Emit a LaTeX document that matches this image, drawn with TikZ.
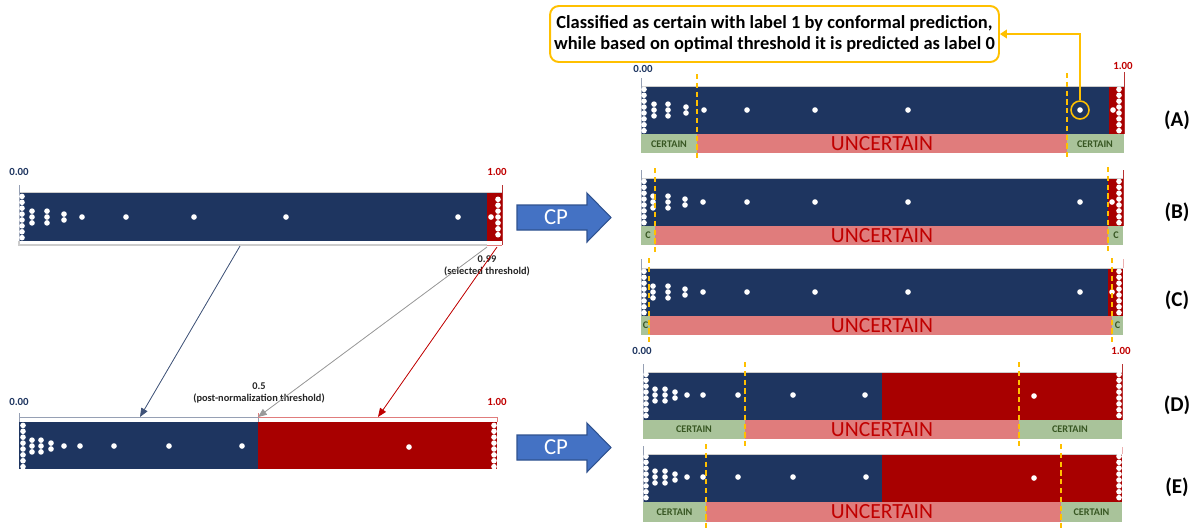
\documentclass[tikz,border=0pt]{standalone}
\usepackage{fontspec}
\setmainfont{Carlito}
\usetikzlibrary{arrows.meta}
\definecolor{navy}{RGB}{30,53,96}
\definecolor{barred}{RGB}{168,0,0}
\definecolor{labred}{RGB}{192,0,0}
\definecolor{uncpink}{RGB}{224,124,124}
\definecolor{certgreen}{RGB}{169,195,154}
\definecolor{certtxt}{RGB}{56,87,35}
\definecolor{uncred}{RGB}{192,0,0}
\definecolor{throrange}{RGB}{255,192,0}
\definecolor{cpblue}{RGB}{68,114,196}
\definecolor{cpborder}{RGB}{47,82,143}
\definecolor{axgray}{RGB}{150,160,180}
\definecolor{txtdark}{RGB}{38,38,38}
\newcommand\dcol[3]{\foreach \k in {1,...,#3}{\fill[white] (#1,{#2+(\k-(#3+1)/2)*5.9}) circle[radius=1.6pt];}}
\newcommand\dsing[2]{\foreach \xx in {#1}{\fill[white] (\xx,#2) circle[radius=1.6pt];}}
\newcommand\distro[6]{\dcol{#1}{#6}{8}\dcol{#2}{#6}{3}\dcol{#3}{#6}{3}\dcol{#4}{#6}{2}\dsing{#5}{#6}}
\newcommand\stripbar[6]{%
  \fill[certgreen] (#3,#1) rectangle (#4,#2);
  \fill[uncpink] (#4,#1) rectangle (#5,#2);
  \fill[certgreen] (#5,#1) rectangle (#6,#2);}
\begin{document}
\begin{tikzpicture}[x=0.02cm,y=-0.02cm,
  lbl/.style={font=\bfseries\fontsize{6.2}{7}\selectfont, inner sep=0},
  thrlbl/.style={font=\bfseries\fontsize{5.9}{7.2}\selectfont, inner sep=0, align=center, text=txtdark},
  uncert/.style={text=uncred, font=\fontsize{12.3}{14}\selectfont, inner sep=0},
  cert/.style={text=certtxt, font=\bfseries\fontsize{5.8}{6}\selectfont, inner sep=0},
  thr/.style={throrange, line width=0.85pt, dash pattern=on 3pt off 2pt},
  cptext/.style={text=white, font=\fontsize{13}{15}\selectfont, inner sep=0},
  arrshape/.style={fill=cpblue, draw=cpborder, line width=0.6pt},
  rowlbl/.style={font=\bfseries\fontsize{12}{14}\selectfont, inner sep=0},
  conn/.style={line width=0.45pt, -{Triangle[length=5pt,width=4pt]}}]
\useasboundingbox (0,0) rectangle (1200,529);

% ---------------- top-left bar ----------------
\fill[navy] (19,192) rectangle (487,241);
\fill[barred] (487,192) rectangle (502,241);
\draw[gray!40, line width=0.4pt] (19,192) -- (502,192);
\draw[axgray, line width=0.5pt] (19,185) -- (19,241);
\draw[barred!80, line width=0.5pt] (502,185) -- (502,245);
\draw[gray!40, line width=0.6pt] (19,241) -- (19,245) -- (487,245);
\draw[uncpink, line width=0.5pt] (487,245) -- (502,245);
\distro{22}{32}{47}{64}{82,126,194,286,458}{217}
\dsing{491}{217}\dcol{498}{217}{7}
\node[lbl, text=navy] (z1) at (19,172) {0.00};
\node[lbl, text=labred] (o1) at (497,172) {1.00};
\node[thrlbl] (t99) at (487,266) {0.99\\(selected threshold)};

% ---------------- bottom-left bar ----------------
\fill[navy] (19,422) rectangle (258,469);
\fill[barred] (258,422) rectangle (497,469);
\draw[axgray, line width=0.5pt] (19,413) -- (19,422);
\draw[axgray, line width=0.5pt] (19,417) -- (258,417) -- (258,422);
\draw[uncpink, line width=0.5pt] (258,417) -- (497,417) -- (497,422);
\draw[uncpink, line width=0.5pt] (258,413) -- (258,417);
\distro{23}{32}{41}{51}{64,80,114,169,242}{446}
\dsing{409}{447}\dcol{494}{446}{8}
\node[lbl, text=navy] (z2) at (19,402) {0.00};
\node[lbl, text=labred] (o2) at (497,402) {1.00};
\node[thrlbl] (t05) at (259,393) {0.5\\(post-normalization threshold)};

% connectors between left bars
\coordinate (nvA) at (240,246); \coordinate (nvB) at (140,417);
\coordinate (grA) at (487,247); \coordinate (grB) at (258,417);
\coordinate (rdA) at (497,247); \coordinate (rdB) at (378,417);
\draw[conn, draw=navy!85, fill=navy!85] (nvA) -- (nvB);
\draw[conn, draw=gray!80, fill=gray!80] (grA) -- (grB);
\draw[conn, draw=red!75!black, fill=red!75!black] (rdA) -- (rdB);

% ---------------- CP arrows ----------------
\path[arrshape] (517,205) -- (587,205) -- (587,193) -- (611,217.5) -- (587,242) -- (587,230) -- (517,230) -- cycle;
\node[cptext] (cp1) at (556,217.5) {CP};
\path[arrshape] (517,435) -- (587,435) -- (587,423) -- (611,447.5) -- (587,472) -- (587,460) -- (517,460) -- cycle;
\node[cptext] (cp2) at (556,447.5) {CP};

% ---------------- bar A ----------------
\fill[navy] (641,86) rectangle (1109,134);
\fill[barred] (1109,86) rectangle (1124,134);
\draw[gray!40, line width=0.4pt] (641,86) -- (1124,86);
\draw[axgray, line width=0.5pt] (641,78) -- (641,134);
\draw[barred!80, line width=0.5pt] (1124,72) -- (1124,134);
\stripbar{134}{153}{641}{697}{1067}{1124}
\distro{644}{654}{668}{686}{704,747,815,908,1080}{110}
\dsing{1113}{110}\dcol{1119}{110}{8}
\node[lbl, text=navy] (z3) at (643,69) {0.00};
\node[lbl, text=labred] (o3) at (1123,66) {1.00};
\node[cert] (ca1) at (669,144) {CERTAIN};
\node[cert] (ca2) at (1095,144) {CERTAIN};
\node[uncert] (ua) at (882,144) {UNCERTAIN};
\draw[thr] (697,74) -- (697,160);
\draw[thr] (1067,73) -- (1067,160);
\node[rowlbl] (la) at (1177,120) {(A)};

% ---------------- bar B ----------------
\fill[navy] (641,178) rectangle (1108,226);
\fill[barred] (1108,178) rectangle (1123,226);
\draw[gray!40, line width=0.4pt] (641,178) -- (1123,178);
\draw[axgray, line width=0.5pt] (641,170) -- (641,226);
\draw[barred!80, line width=0.5pt] (1123,170) -- (1123,226);
\stripbar{226}{245}{641}{655}{1108}{1123}
\distro{644}{653}{668}{685}{703,747,815,908,1080}{202}
\dsing{1112}{202}\dcol{1119}{202}{8}
\node[cert] (cb1) at (648,235.5) {C};
\node[cert] (cb2) at (1116,235.5) {C};
\node[uncert] (ub) at (882,235.5) {UNCERTAIN};
\draw[thr] (655,168) -- (655,252);
\draw[thr] (1108,167) -- (1108,253);
\node[rowlbl] (lb) at (1177,212) {(B)};

% ---------------- bar C ----------------
\fill[navy] (641,268) rectangle (1108,316);
\fill[barred] (1108,268) rectangle (1123,316);
\draw[gray!40, line width=0.4pt] (641,268) -- (1123,268);
\draw[axgray, line width=0.5pt] (641,259) -- (641,316);
\draw[uncpink!60, line width=0.5pt] (1123,259) -- (1123,268);
\stripbar{316}{335}{641}{650}{1112}{1123}
\distro{644}{653}{668}{685}{703,747,815,908,1080}{292}
\dsing{1112}{292}\dcol{1119}{292}{8}
\node[cert] (cc1) at (645.5,325.5) {C};
\node[cert] (cc2) at (1117.5,325.5) {C};
\node[uncert] (uc) at (882,325.5) {UNCERTAIN};
\draw[thr] (649,258) -- (649,345);
\draw[thr] (1112,258) -- (1112,343);
\node[rowlbl] (lc) at (1177,300) {(C)};

% ---------------- bar D ----------------
\fill[navy] (643,372) rectangle (882,420);
\fill[barred] (882,372) rectangle (1122,420);
\draw[gray!40, line width=0.4pt] (643,372) -- (1122,372);
\draw[axgray, line width=0.5pt] (643,364) -- (643,420);
\draw[barred!80, line width=0.5pt] (1122,364) -- (1122,420);
\stripbar{420}{439}{643}{745}{1019}{1122}
\distro{646}{655}{665}{675}{687,703,738,793,865}{395}
\dsing{1034}{396}\dcol{1119}{395}{8}
\node[lbl, text=navy] (z4) at (642,351) {0.00};
\node[lbl, text=labred] (o4) at (1121,351) {1.00};
\node[cert] (cd1) at (694,429.5) {CERTAIN};
\node[cert] (cd2) at (1070,429.5) {CERTAIN};
\node[uncert] (ud) at (882,429.5) {UNCERTAIN};
\draw[thr] (745,362) -- (745,448);
\draw[thr] (1019,362) -- (1019,448);
\node[rowlbl] (ld) at (1177,405) {(D)};

% ---------------- bar E ----------------
\fill[navy] (643,454) rectangle (882,502);
\fill[barred] (882,454) rectangle (1122,502);
\draw[gray!40, line width=0.4pt] (643,454) -- (1122,454);
\draw[axgray, line width=0.5pt] (643,446) -- (643,502);
\draw[uncpink!60, line width=0.5pt] (1122,447) -- (1122,454);
\stripbar{502}{522}{643}{706}{1061}{1122}
\distro{646}{655}{665}{675}{687,703,738,793,866}{477}
\dsing{1034}{478}\dcol{1119}{477}{8}
\node[cert] (ce1) at (674.5,512) {CERTAIN};
\node[cert] (ce2) at (1091.5,512) {CERTAIN};
\node[uncert] (ue) at (882,512) {UNCERTAIN};
\draw[thr] (706,444) -- (706,529);
\draw[thr] (1061,444) -- (1061,529);
\node[rowlbl] (le) at (1177,487) {(E)};

% ---------------- callout ----------------
\node[draw=throrange, line width=1.1pt, rounded corners=5pt, inner sep=0,
      minimum width=8.98cm, minimum height=1.12cm, align=center,
      font=\bfseries\fontsize{10.5}{11.9}\selectfont, text=black] (note) at (774.5,34)
  {Classified as certain with label 1 by conformal prediction,\\while based on optimal threshold it is predicted as label 0};
\node[draw=throrange, circle, line width=0.9pt, minimum size=0.36cm, inner sep=0] (circ) at (1080,110) {};
\draw[throrange, line width=0.9pt, -{Triangle[length=4pt,width=5pt]}] (circ.north) |- (note.east);
\end{tikzpicture}
\end{document}
